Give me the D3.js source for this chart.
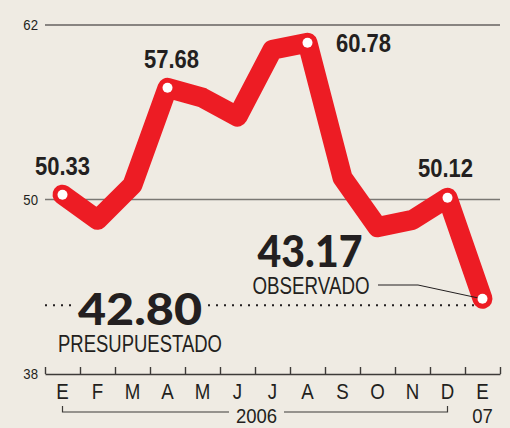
<!DOCTYPE html>
<html>
<head>
<meta charset="utf-8">
<script src="https://cdn.jsdelivr.net/npm/d3@7"></script>
<style>
  html, body { margin: 0; padding: 0; background: #efebe3; }
  svg { display: block; }
  .narrow { font-family: "Liberation Sans", Arimo, sans-serif; fill: #231f20; }
  .big { font-family: Lato, "DejaVu Sans", sans-serif; font-weight: 900; fill: #231f20; }
</style>
</head>
<body>
<div id="chart"></div>
<script>
const months = ['E', 'F', 'M', 'A', 'M', 'J', 'J', 'A', 'S', 'O', 'N', 'D', 'E'];
const values = [50.33, 48.6, 51.0, 57.68, 57.0, 55.7, 60.3, 60.78, 51.5, 48.1, 48.6, 50.12, 43.17];
const labelled = [0, 3, 7, 11];
const yTicks = [38, 50, 62];
const budget = 42.80;
const years = ['2006', '07'];

const width = 510, height = 428;
const svg = d3.select('#chart').append('svg')
    .attr('width', width)
    .attr('height', height);

const x = d3.scaleBand()
    .domain(d3.range(months.length))
    .range([45, 500])
    .padding(0);

const y = d3.scaleLinear()
    .domain([38, 62])
    .range([374, 25]);

const cx = i => x(i) + x.bandwidth() / 2;
const fmt = d3.format('.2f');

// no condensed font installed, so squeeze the glyphs horizontally
function condense(sel, k) {
    sel.each(function () {
        const w = this.getComputedTextLength();
        d3.select(this)
            .attr('textLength', w * k)
            .attr('lengthAdjust', 'spacingAndGlyphs');
    });
    return sel;
}

// gridlines (62 dark, 50 grey)
svg.selectAll('.grid')
    .data(yTicks.slice(1))
    .enter().append('line')
    .attr('class', 'grid')
    .attr('x1', 45).attr('x2', 500)
    .attr('y1', d => y(d)).attr('y2', d => y(d))
    .attr('stroke', d => d === 62 ? '#231f20' : '#7a7773')
    .attr('stroke-width', d => d === 62 ? 1.2 : 1.3);

svg.selectAll('.ylab')
    .data(yTicks)
    .enter().append('text')
    .attr('class', 'narrow')
    .attr('x', 38)
    .attr('y', d => y(d) + 5)
    .attr('text-anchor', 'end')
    .style('font-size', '15.5px')
    .text(d => d)
    .call(condense, 0.85);

// bottom axis with upward ticks
const xAxis = d3.axisBottom(d3.scaleLinear().domain([0, months.length]).range([45, 500]))
    .tickValues(d3.range(months.length + 1))
    .tickSizeInner(-7)
    .tickSizeOuter(0)
    .tickFormat('');
const ax = svg.append('g')
    .attr('transform', `translate(0,${y(38)})`)
    .call(xAxis);
ax.selectAll('line, path').attr('stroke', '#3d3a38').attr('stroke-width', 1.4);

svg.selectAll('.mlab')
    .data(months)
    .enter().append('text')
    .attr('class', 'narrow')
    .attr('x', (d, i) => cx(i))
    .attr('y', 399)
    .attr('text-anchor', 'middle')
    .style('font-size', '22px')
    .text(d => d)
    .call(condense, 0.85);

// year bracket
const bracket = d3.line();
svg.append('path')
    .attr('d', bracket([[cx(0), 406], [cx(0), 412], [229, 412]]))
    .attr('fill', 'none').attr('stroke', '#3d3a38').attr('stroke-width', 1.2);
svg.append('path')
    .attr('d', bracket([[284, 412], [cx(11), 412], [cx(11), 406]]))
    .attr('fill', 'none').attr('stroke', '#3d3a38').attr('stroke-width', 1.2);
svg.append('text').attr('class', 'narrow')
    .attr('x', (229 + 284) / 2).attr('y', 423)
    .attr('text-anchor', 'middle')
    .style('font-size', '21px')
    .text(years[0])
    .call(condense, 0.88);
svg.append('text').attr('class', 'narrow')
    .attr('x', cx(12)).attr('y', 423)
    .attr('text-anchor', 'middle')
    .style('font-size', '21px')
    .text(years[1])
    .call(condense, 0.88);

// budget dotted reference line
const by = y(budget) + 1;
[[45, 76], [208, 478]].forEach(([a, b]) => {
    svg.append('line')
        .attr('x1', a).attr('x2', b)
        .attr('y1', by).attr('y2', by)
        .attr('stroke', '#231f20')
        .attr('stroke-width', 2)
        .attr('stroke-dasharray', '2,6');
});

svg.append('text')
    .attr('class', 'big')
    .attr('x', 140).attr('y', 325)
    .attr('text-anchor', 'middle')
    .style('font-size', '44px')
    .attr('textLength', 124)
    .attr('lengthAdjust', 'spacingAndGlyphs')
    .text(fmt(budget));
svg.append('text').attr('class', 'narrow')
    .attr('x', 140).attr('y', 352)
    .attr('text-anchor', 'middle')
    .style('font-size', '23.5px')
    .attr('textLength', 164)
    .attr('lengthAdjust', 'spacingAndGlyphs')
    .text('PRESUPUESTADO');

// main line
const line = d3.line()
    .x((d, i) => cx(i))
    .y(d => y(d));

svg.append('path')
    .datum(values)
    .attr('d', line)
    .attr('fill', 'none')
    .attr('stroke', '#ed1c24')
    .attr('stroke-width', 20)
    .attr('stroke-linejoin', 'round')
    .attr('stroke-linecap', 'round');

const last = values.length - 1;
const dots = labelled.concat([last]);
svg.selectAll('.dot')
    .data(dots)
    .enter().append('circle')
    .attr('cx', i => cx(i))
    .attr('cy', i => y(values[i]))
    .attr('r', 5)
    .attr('fill', '#fff');

// value labels
const offsets = { 0: [0, -20], 3: [4, -20], 7: [56, 9], 11: [-2, -21] };
svg.selectAll('.vlab')
    .data(labelled)
    .enter().append('text')
    .attr('class', 'narrow')
    .attr('x', i => cx(i) + offsets[i][0])
    .attr('y', i => y(values[i]) + offsets[i][1])
    .attr('text-anchor', 'middle')
    .style('font-size', '25px')
    .style('font-weight', 'bold')
    .text(i => fmt(values[i]))
    .call(condense, 0.88);

// observed callout
svg.append('text')
    .attr('class', 'big')
    .attr('x', 310).attr('y', 267)
    .attr('text-anchor', 'middle')
    .style('font-size', '43px')
    .attr('textLength', 105)
    .attr('lengthAdjust', 'spacingAndGlyphs')
    .text(fmt(values[last]));
svg.append('text').attr('class', 'narrow')
    .attr('x', 311).attr('y', 294)
    .attr('text-anchor', 'middle')
    .style('font-size', '23.5px')
    .attr('textLength', 117)
    .attr('lengthAdjust', 'spacingAndGlyphs')
    .text('OBSERVADO');
svg.append('path')
    .attr('d', bracket([[378, 285], [418, 285], [cx(last) - 5, y(values[last]) - 1]]))
    .attr('fill', 'none')
    .attr('stroke', '#231f20')
    .attr('stroke-width', 1);
</script>
</body>
</html>
